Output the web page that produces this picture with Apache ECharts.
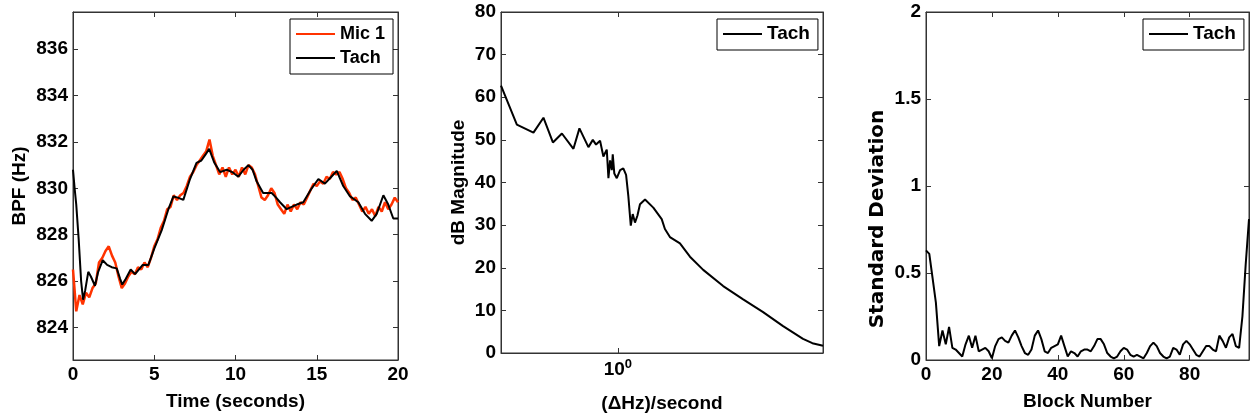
<!DOCTYPE html>
<html>
<head>
<meta charset="utf-8">
<script src="https://cdn.jsdelivr.net/npm/echarts@6/dist/echarts.min.js"></script>
<style>
  html, body { margin: 0; background: #fff; }
  #chart { width: 1251px; height: 418px; }
</style>
</head>
<body>
<div id="chart"></div>
<script>
// 左图：BPF 随时间变化（Mic 1 每 0.2 秒一个点）
const MIC_STEP = 0.2;
const micValues = [
  826.5, 824.7, 825.4, 825.0, 825.5, 825.3, 825.7, 825.9, 826.8, 827.0,
  827.3, 827.5, 827.1, 826.8, 826.2, 825.7, 825.9, 826.2, 826.4, 826.3,
  826.6, 826.5, 826.8, 826.6, 827.0, 827.5, 827.8, 828.3, 828.6, 829.1,
  829.2, 829.7, 829.5, 829.7, 829.8, 830.1, 830.5, 830.7, 831.0, 831.2,
  831.4, 831.6, 832.1, 831.4, 831.0, 830.6, 830.9, 830.5, 830.9, 830.6,
  830.8, 830.5, 830.9, 830.6, 831.0, 830.9, 830.6, 830.1, 829.6, 829.5,
  829.7, 830.0, 829.8, 829.3, 829.1, 828.9, 829.3, 829.0, 829.3, 829.1,
  829.4, 829.3, 829.6, 829.9, 830.2, 830.1, 830.3, 830.2, 830.5, 830.4,
  830.7, 830.6, 830.7, 830.4, 830.0, 829.8, 829.5, 829.6, 829.3, 829.0,
  829.2, 828.9, 829.1, 828.8, 829.2, 829.0, 829.4, 829.1, 829.3, 829.6,
  829.4
];
const tachTime = [
  0, 0.1, 0.2, 0.35, 0.5, 0.62, 0.75, 0.94, 1.1, 1.35, 1.55, 1.83, 2.1, 2.38, 2.69,
  2.9, 3.03, 3.25, 3.55, 3.82, 4.05, 4.29, 4.64, 5.0, 5.46, 5.87, 6.18, 6.45, 6.79,
  7.2, 7.6, 7.9, 8.15, 8.38, 8.7, 9.05, 9.46, 9.8, 10.17, 10.5, 10.79, 11.05, 11.3,
  11.7, 12.23, 12.5, 12.74, 13.15, 13.45, 13.77, 14.17, 14.69, 15.1, 15.5, 15.9,
  16.23, 16.63, 17.05, 17.56, 17.97, 18.38, 18.69, 19.1, 19.4, 19.71, 20
];
const tachBpf = [
  830.8, 830.0, 829.3, 827.8, 826.0, 825.2, 825.6, 826.4, 826.2, 825.8, 826.4, 826.9, 826.7, 826.6, 826.55,
  826.1, 825.85, 826.1, 826.5, 826.3, 826.5, 826.7, 826.7, 827.4, 828.2, 829.1, 829.65, 829.6, 829.5,
  830.4, 831.1, 831.2, 831.45, 831.7, 831.1, 830.7, 830.8, 830.7, 830.5, 830.8, 831.0, 830.8, 830.3,
  829.8, 829.8, 829.6, 829.4, 829.1, 829.2, 829.3, 829.4, 830.0, 830.4, 830.2, 830.5,
  830.75, 830.1, 829.65, 829.4, 828.9, 828.6, 828.9, 829.7, 829.3, 828.7, 828.7
];
const bpfTicks = [824, 826, 828, 830, 832, 834, 836];

// 中图：频谱（对数横轴）
const specFreq = [
  0.4, 0.453, 0.516, 0.558, 0.601, 0.645, 0.706, 0.740, 0.794, 0.822, 0.843, 0.870,
  0.893, 0.917, 0.929, 0.941, 0.954, 0.961, 0.973, 0.992, 1.018, 1.044, 1.067, 1.086,
  1.107, 1.124, 1.144, 1.166, 1.190, 1.238, 1.321, 1.411, 1.447, 1.505, 1.628, 1.761,
  1.954, 2.285, 2.673, 3.126, 3.656, 4.275, 4.6, 5.0
];
const specDb = [
  62.7, 53.6, 51.7, 55.2, 49.4, 51.5, 47.9, 52.7, 48.3, 50.0, 48.9, 49.8,
  46.1, 47.7, 41.0, 45.2, 42.9, 46.6, 42.1, 41.0, 42.9, 43.3, 41.8, 36.8,
  29.9, 32.6, 30.6, 32.2, 34.9, 36.0, 34.1, 31.4, 29.1, 27.2, 25.7, 22.6,
  19.5, 15.7, 12.6, 9.6, 6.3, 3.3, 2.3, 1.7
];
const logTicks = [1];

// 右图：每个 block 的标准差（block 0 ~ 98）
const stdDev = [
  0.63, 0.61, 0.47, 0.33, 0.08, 0.17, 0.09, 0.19, 0.07, 0.06,
  0.04, 0.02, 0.09, 0.14, 0.07, 0.14, 0.05, 0.06, 0.07, 0.05,
  0.01, 0.08, 0.12, 0.13, 0.11, 0.10, 0.14, 0.17, 0.13, 0.08,
  0.04, 0.03, 0.06, 0.14, 0.17, 0.12, 0.05, 0.04, 0.07, 0.08,
  0.09, 0.14, 0.08, 0.02, 0.05, 0.04, 0.02, 0.05, 0.06, 0.06,
  0.05, 0.08, 0.12, 0.12, 0.09, 0.04, 0.02, 0.01, 0.02, 0.05,
  0.07, 0.06, 0.03, 0.02, 0.03, 0.02, 0.01, 0.04, 0.08, 0.10,
  0.08, 0.04, 0.02, 0.01, 0.02, 0.07, 0.06, 0.03, 0.09, 0.11,
  0.09, 0.06, 0.03, 0.02, 0.05, 0.08, 0.08, 0.06, 0.05, 0.14,
  0.11, 0.07, 0.13, 0.15, 0.08, 0.07, 0.25, 0.55, 0.81
];
const blockTicks = [0, 20, 40, 60, 80];

const FONT = '"Liberation Sans", Arial, sans-serif';
const AXIS_COLOR = '#333';
const txt = (size, family) => ({ color: '#000', fontFamily: family || FONT, fontSize: size, fontWeight: 'bold' });

// 主轴（带刻度标签）
function mainAxis(grid, opt) {
  return Object.assign({
    gridIndex: grid,
    type: 'value',
    nameLocation: 'middle',
    nameTextStyle: txt(19),
    axisLine: { show: true, onZero: false, lineStyle: { color: AXIS_COLOR, width: 1 } },
    axisTick: { show: true, inside: true, length: 5, lineStyle: { color: AXIS_COLOR } },
    axisLabel: Object.assign({ margin: 5 }, txt(19)),
    splitLine: { show: false }
  }, opt);
}
// 对边的框线，只画刻度
function mirrorAxis(grid, position, opt) {
  return Object.assign({
    gridIndex: grid,
    type: 'value',
    position: position,
    axisLine: { show: true, onZero: false, lineStyle: { color: AXIS_COLOR, width: 1 } },
    axisTick: { show: true, inside: true, length: 5, lineStyle: { color: AXIS_COLOR } },
    axisLabel: { show: false },
    splitLine: { show: false }
  }, opt);
}
function withCustom(axis, values) {
  axis.axisTick = Object.assign({}, axis.axisTick, { customValues: values });
  if (axis.axisLabel.show !== false) axis.axisLabel = Object.assign({}, axis.axisLabel, { customValues: values });
  return axis;
}

const x1 = { min: 0, max: 20, interval: 5 };
const y1 = { min: 822.6, max: 837.6 };
const x2 = { type: 'log', logBase: 10, min: 0.4, max: 5 };
const y2 = { min: 0, max: 80, interval: 10 };
const x3 = { min: 0, max: 98 };
const y3 = { min: 0, max: 2, interval: 0.5 };

const xAxis = [
  mainAxis(0, Object.assign({ name: 'Time (seconds)', nameGap: 32 }, x1)),
  mirrorAxis(0, 'top', x1),
  withCustom(mainAxis(1, Object.assign({
    name: '(ΔHz)/second', nameGap: 41,
    axisLabel: Object.assign({
      margin: 5,
      formatter: () => '10{sup|0}',
      rich: { sup: Object.assign(txt(13), { padding: [0, 0, 10, 0] }) }
    }, txt(19))
  }, x2)), logTicks),
  withCustom(mirrorAxis(1, 'top', x2), logTicks),
  withCustom(mainAxis(2, Object.assign({ name: 'Block Number', nameGap: 32 }, x3)), blockTicks),
  withCustom(mirrorAxis(2, 'top', x3), blockTicks)
];
const yAxis = [
  withCustom(mainAxis(0, Object.assign({ name: 'BPF (Hz)', nameGap: 44 }, y1)), bpfTicks),
  withCustom(mirrorAxis(0, 'right', y1), bpfTicks),
  mainAxis(1, Object.assign({ name: 'dB Magnitude', nameGap: 33 }, y2)),
  mirrorAxis(1, 'right', y2),
  mainAxis(2, Object.assign({
    name: 'Standard Deviation', nameGap: 38,
    nameTextStyle: Object.assign(txt(20, '"DejaVu Sans", sans-serif'), { padding: [0, 66, 0, 0] })
  }, y3)),
  mirrorAxis(2, 'right', y3)
];

function legendBox(left, names, size) {
  return {
    left: left, top: 19, orient: 'vertical',
    data: names,
    icon: 'rect',
    itemWidth: 39, itemHeight: 2, itemGap: 4,
    padding: [5, 8, 6, 6],
    backgroundColor: '#fff', borderColor: '#000', borderWidth: 1, borderRadius: 0,
    textStyle: Object.assign(txt(size), { lineHeight: 20 }),
    selectedMode: false
  };
}

const lineSeries = (name, color, width, xi, data) => ({
  name: name, type: 'line', xAxisIndex: xi, yAxisIndex: xi,
  data: data, showSymbol: false, symbol: 'none',
  lineStyle: { color: color, width: width }, itemStyle: { color: color }
});
// 空系列，让上/右镜像轴也参与渲染
const mirrorSeries = (xi) => ({ type: 'line', xAxisIndex: xi, yAxisIndex: xi, data: [], silent: true });

const chart = echarts.init(document.getElementById('chart'));
chart.setOption({
  animation: false,
  backgroundColor: '#fff',
  grid: [
    { left: 73, top: 12, width: 325, height: 348, show: true, borderColor: AXIS_COLOR, borderWidth: 1 },
    { left: 501, top: 12, width: 322, height: 348, show: true, borderColor: AXIS_COLOR, borderWidth: 1 },
    { left: 926, top: 12, width: 323, height: 348, show: true, borderColor: AXIS_COLOR, borderWidth: 1 }
  ],
  xAxis: xAxis,
  yAxis: yAxis,
  legend: [
    legendBox(290, ['Mic 1', 'Tach'], 18),
    legendBox(717, ['Tach'], 19),
    legendBox(1143, ['Tach'], 19)
  ],
  series: [
    lineSeries('Mic 1', '#ff3300', 2.5, 0, micValues.map((v, i) => [i * MIC_STEP, v])),
    lineSeries('Tach', '#000', 2, 0, tachTime.map((t, i) => [t, tachBpf[i]])),
    lineSeries('Tach', '#000', 2, 2, specFreq.map((f, i) => [f, specDb[i]])),
    lineSeries('Tach', '#000', 2, 4, stdDev.map((v, i) => [i, v])),
    mirrorSeries(1), mirrorSeries(3), mirrorSeries(5)
  ]
});
</script>
</body>
</html>
